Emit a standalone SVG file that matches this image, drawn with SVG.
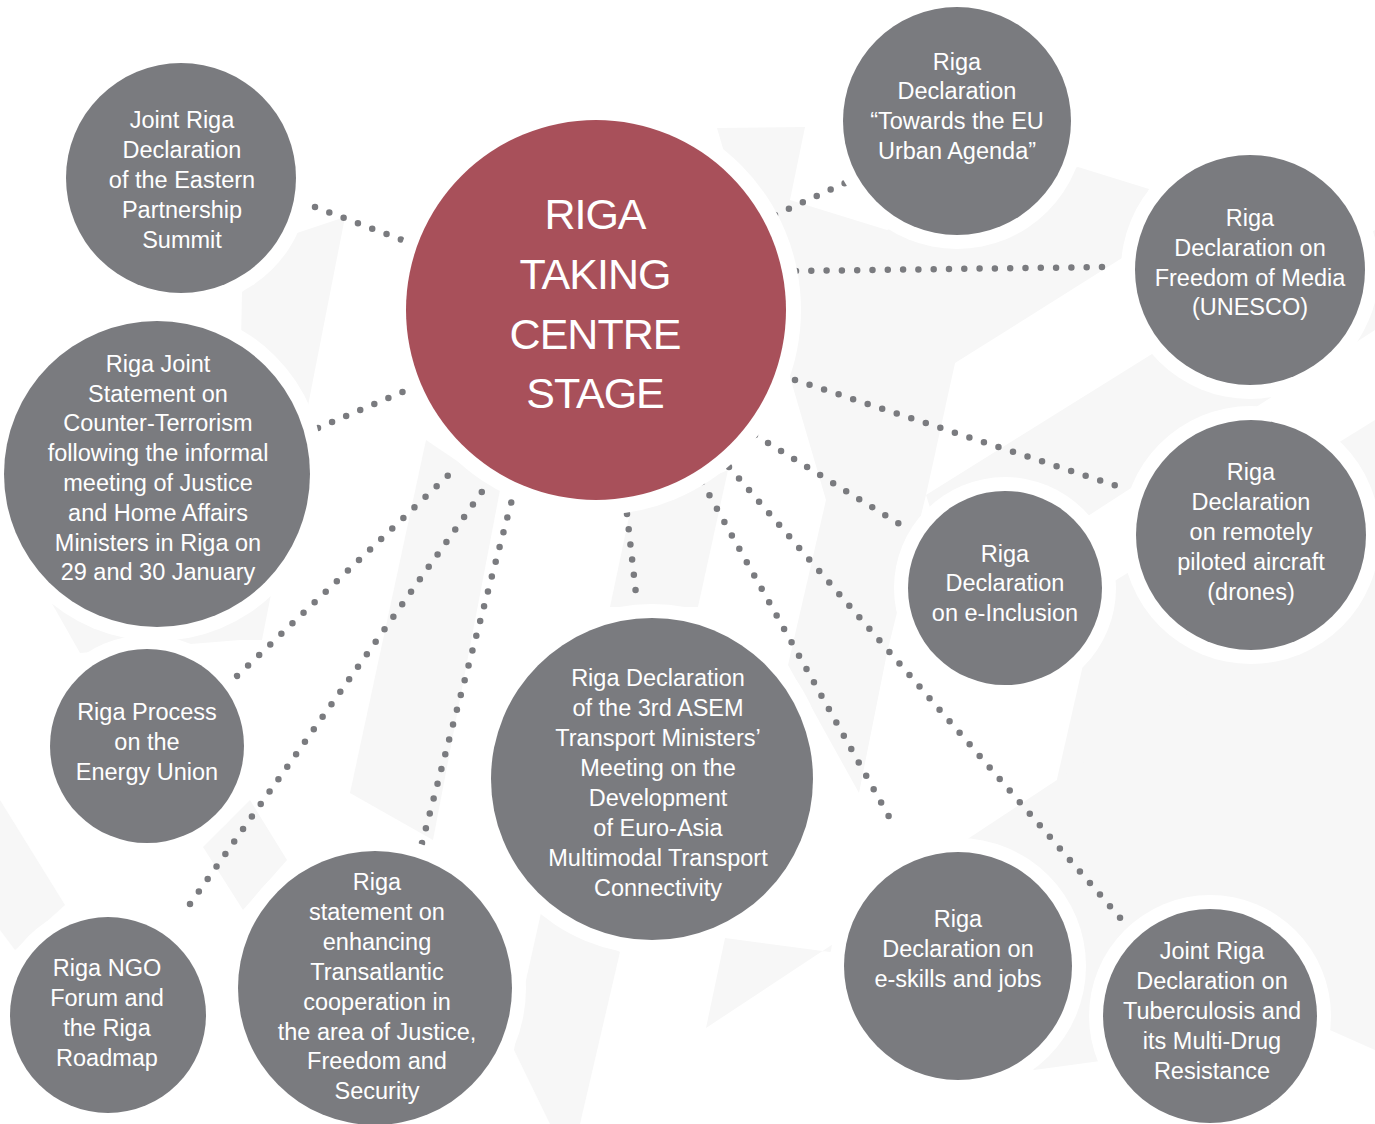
<svg xmlns="http://www.w3.org/2000/svg" width="1375" height="1124" viewBox="0 0 1375 1124">
<style>
.bg{fill:#f7f7f7}
.halo{fill:#ffffff}
.node{fill:#7a7b7f}
.hub{fill:#a8505a}
.lbl{font-family:"Liberation Sans",Arial,sans-serif;font-size:23.5px;fill:#ffffff;text-anchor:middle}
.title{font-family:"Liberation Sans",Arial,sans-serif;font-size:43px;letter-spacing:-1px;fill:#ffffff;text-anchor:middle}
.dot{fill:none;stroke:#7a7b7f;stroke-width:6.5;stroke-linecap:round;stroke-dasharray:0 15.3}
</style>
<rect width="1375" height="1124" fill="#ffffff"/>
<g id="background">
<polygon class="bg" points="717,128 805,127 790,200 887,230 1078,167 1149,189 1122,258 955,363 926,495 887,653 859,793 788,665 826,500"/>
<polygon class="bg" points="926,495 1152,354 1375,230 1375,330 1020,560 960,600"/>
<polygon class="bg" points="1050,810 1375,600 1375,420 1100,590"/>
<polygon class="bg" points="860,910 1375,570 1375,1050 1330,1030 1034,1070"/>
<polygon class="bg" points="297,233 345,217 262,640 235,640 242,292"/>
<polygon class="bg" points="50,600 80,653 240,640 260,600"/>
<polygon class="bg" points="426,440 500,490 433,840 350,793"/>
<polygon class="bg" points="630,512 728,470 698,607 610,607"/>
<polygon class="bg" points="541,913 620,952 580,1124 550,1124 514,1050 526,980"/>
<polygon class="bg" points="725,938 830,952 930,880 706,1028"/>
<polygon class="bg" points="0,800 65,905 15,950 0,930"/>
<polygon class="bg" points="203,847 250,800 287,860 243,910"/>
</g>
<g id="connectors">
<line class="dot" x1="315" y1="207" x2="410" y2="243"/>
<line class="dot" x1="775" y1="215" x2="845" y2="183"/>
<line class="dot" x1="796" y1="271" x2="1105" y2="267"/>
<line class="dot" x1="318" y1="428" x2="412" y2="388"/>
<line class="dot" x1="795" y1="380" x2="1123" y2="488"/>
<line class="dot" x1="755" y1="435" x2="906" y2="528"/>
<line class="dot" x1="237" y1="676" x2="458" y2="466"/>
<line class="dot" x1="190" y1="904" x2="486" y2="486"/>
<line class="dot" x1="422" y1="843" x2="514" y2="492"/>
<line class="dot" x1="627" y1="514" x2="637" y2="603"/>
<line class="dot" x1="702" y1="482" x2="892" y2="822"/>
<line class="dot" x1="729" y1="467" x2="1122" y2="920"/>
</g>
<g id="hub">
<circle class="halo" cx="596" cy="310" r="205"/>
<circle class="hub" cx="596" cy="310" r="190"/>
<text class="title" x="595" y="229">RIGA</text>
<text class="title" x="595" y="289">TAKING</text>
<text class="title" x="595" y="349">CENTRE</text>
<text class="title" x="595" y="408">STAGE</text>
</g>
<g id="n-eastern">
<circle class="halo" cx="181" cy="178" r="129"/>
<circle class="node" cx="181" cy="178" r="115"/>
<text class="lbl" x="182" y="128">Joint Riga</text>
<text class="lbl" x="182" y="158">Declaration</text>
<text class="lbl" x="182" y="188">of the Eastern</text>
<text class="lbl" x="182" y="218">Partnership</text>
<text class="lbl" x="182" y="248">Summit</text>
</g>
<g id="n-urban">
<circle class="halo" cx="957" cy="121" r="128"/>
<circle class="node" cx="957" cy="121" r="114"/>
<text class="lbl" x="957" y="70">Riga</text>
<text class="lbl" x="957" y="99">Declaration</text>
<text class="lbl" x="957" y="129">“Towards the EU</text>
<text class="lbl" x="957" y="159">Urban Agenda”</text>
</g>
<g id="n-media">
<circle class="halo" cx="1250" cy="270" r="129"/>
<circle class="node" cx="1250" cy="270" r="115"/>
<text class="lbl" x="1250" y="226">Riga</text>
<text class="lbl" x="1250" y="256">Declaration on</text>
<text class="lbl" x="1250" y="286">Freedom of Media</text>
<text class="lbl" x="1250" y="315">(UNESCO)</text>
</g>
<g id="n-terror">
<circle class="halo" cx="157" cy="474" r="167"/>
<circle class="node" cx="157" cy="474" r="153"/>
<text class="lbl" x="158" y="372">Riga Joint</text>
<text class="lbl" x="158" y="402">Statement on</text>
<text class="lbl" x="158" y="431">Counter-Terrorism</text>
<text class="lbl" x="158" y="461">following the informal</text>
<text class="lbl" x="158" y="491">meeting of Justice</text>
<text class="lbl" x="158" y="521">and Home Affairs</text>
<text class="lbl" x="158" y="551">Ministers in Riga on</text>
<text class="lbl" x="158" y="580">29 and 30 January</text>
</g>
<g id="n-drones">
<circle class="halo" cx="1251" cy="535" r="129"/>
<circle class="node" cx="1251" cy="535" r="115"/>
<text class="lbl" x="1251" y="480">Riga</text>
<text class="lbl" x="1251" y="510">Declaration</text>
<text class="lbl" x="1251" y="540">on remotely</text>
<text class="lbl" x="1251" y="570">piloted aircraft</text>
<text class="lbl" x="1251" y="600">(drones)</text>
</g>
<g id="n-einclusion">
<circle class="halo" cx="1005" cy="588" r="111"/>
<circle class="node" cx="1005" cy="588" r="97"/>
<text class="lbl" x="1005" y="562">Riga</text>
<text class="lbl" x="1005" y="591">Declaration</text>
<text class="lbl" x="1005" y="621">on e-Inclusion</text>
</g>
<g id="n-energy">
<circle class="halo" cx="147" cy="746" r="111"/>
<circle class="node" cx="147" cy="746" r="97"/>
<text class="lbl" x="147" y="720">Riga Process</text>
<text class="lbl" x="147" y="750">on the</text>
<text class="lbl" x="147" y="780">Energy Union</text>
</g>
<g id="n-asem">
<circle class="halo" cx="652" cy="779" r="175"/>
<circle class="node" cx="652" cy="779" r="161"/>
<text class="lbl" x="658" y="686">Riga Declaration</text>
<text class="lbl" x="658" y="716">of the 3rd ASEM</text>
<text class="lbl" x="658" y="746">Transport Ministers’</text>
<text class="lbl" x="658" y="776">Meeting on the</text>
<text class="lbl" x="658" y="806">Development</text>
<text class="lbl" x="658" y="836">of Euro-Asia</text>
<text class="lbl" x="658" y="866">Multimodal Transport</text>
<text class="lbl" x="658" y="896">Connectivity</text>
</g>
<g id="n-ngo">
<circle class="halo" cx="108" cy="1015" r="112"/>
<circle class="node" cx="108" cy="1015" r="98"/>
<text class="lbl" x="107" y="976">Riga NGO</text>
<text class="lbl" x="107" y="1006">Forum and</text>
<text class="lbl" x="107" y="1036">the Riga</text>
<text class="lbl" x="107" y="1066">Roadmap</text>
</g>
<g id="n-transatlantic">
<circle class="halo" cx="375" cy="988" r="151"/>
<circle class="node" cx="375" cy="988" r="137"/>
<text class="lbl" x="377" y="890">Riga</text>
<text class="lbl" x="377" y="920">statement on</text>
<text class="lbl" x="377" y="950">enhancing</text>
<text class="lbl" x="377" y="980">Transatlantic</text>
<text class="lbl" x="377" y="1010">cooperation in</text>
<text class="lbl" x="377" y="1040">the area of Justice,</text>
<text class="lbl" x="377" y="1069">Freedom and</text>
<text class="lbl" x="377" y="1099">Security</text>
</g>
<g id="n-eskills">
<circle class="halo" cx="958" cy="966" r="128"/>
<circle class="node" cx="958" cy="966" r="114"/>
<text class="lbl" x="958" y="927">Riga</text>
<text class="lbl" x="958" y="957">Declaration on</text>
<text class="lbl" x="958" y="987">e-skills and jobs</text>
</g>
<g id="n-tb">
<circle class="halo" cx="1210" cy="1016" r="121"/>
<circle class="node" cx="1210" cy="1016" r="107"/>
<text class="lbl" x="1212" y="959">Joint Riga</text>
<text class="lbl" x="1212" y="989">Declaration on</text>
<text class="lbl" x="1212" y="1019">Tuberculosis and</text>
<text class="lbl" x="1212" y="1049">its Multi-Drug</text>
<text class="lbl" x="1212" y="1079">Resistance</text>
</g>
</svg>
